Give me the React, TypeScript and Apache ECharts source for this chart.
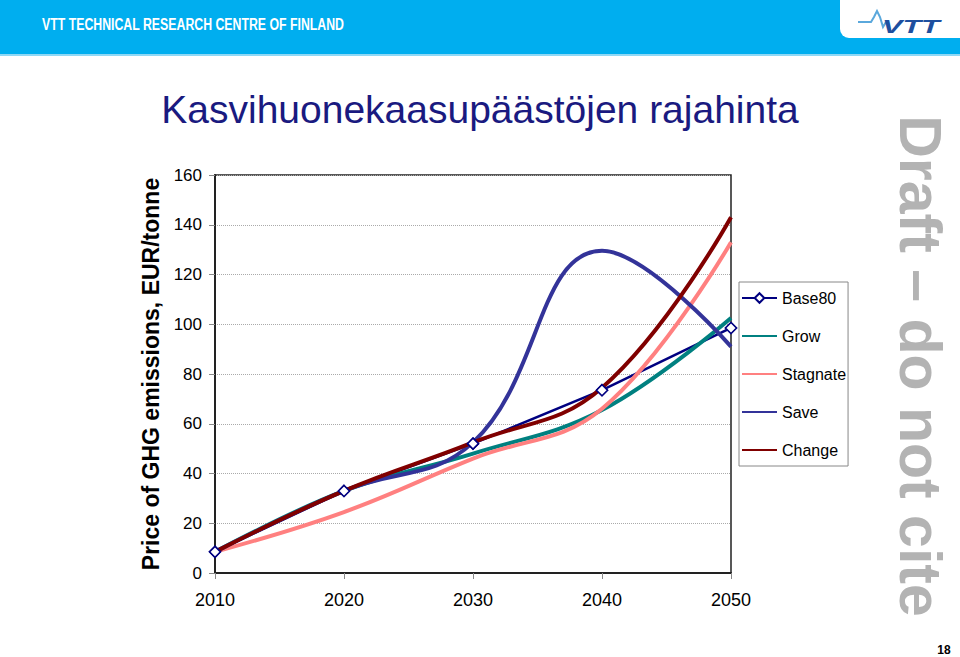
import React, { useEffect, useRef } from "react";
import * as echarts from "echarts";

const years = ["2010", "2020", "2030", "2040", "2050"];
const base80 = [8.5, 33, 52, 73.5, 98.5];
const grow = [8.5, 33, 48, 65.5, 102.5];
const stagnate = [8.5, 24.5, 46, 66, 133];
const save = [8.5, 33, 52.5, 129.5, 91];
const change = [8.5, 33, 52.5, 74.5, 143];
const seriesNames = ["Base80", "Grow", "Stagnate", "Save", "Change"];

const FONT = "'Liberation Sans', Arial, Helvetica, sans-serif";

export default function App() {
  const ref = useRef<HTMLDivElement>(null);
  useEffect(() => {
    const chart = echarts.init(ref.current as HTMLDivElement, null, { renderer: "svg" });
    const lineSeries = (name: string, data: number[], color: string, smooth: number) => ({
      name,
      type: "line",
      data,
      smooth,
      symbol: "none",
      showSymbol: false,
      lineStyle: { color, width: 4 },
      itemStyle: { color },
      z: 3,
    });
    chart.setOption({
      animation: false,
      backgroundColor: "#ffffff",
      textStyle: { fontFamily: FONT },
      title: {
        text: "Kasvihuonekaasupäästöjen rajahinta",
        left: "center",
        top: 85,
        textStyle: { fontSize: 39, fontWeight: "normal", color: "#1a1a80", fontFamily: FONT },
      },
      grid: {
        left: 215,
        right: 229,
        top: 175,
        bottom: 84,
        show: true,
        borderColor: "#222",
        borderWidth: 1.5,
        backgroundColor: "transparent",
      },
      xAxis: {
        type: "category",
        data: years,
        boundaryGap: false,
        axisLine: { lineStyle: { color: "#222", width: 2 } },
        axisTick: { show: true, length: 6, lineStyle: { color: "#888" } },
        axisLabel: { fontSize: 18, color: "#000", margin: 18, fontFamily: FONT },
        splitLine: { show: false },
      },
      yAxis: {
        type: "value",
        min: 0,
        max: 160,
        interval: 20,
        axisLine: { show: true, lineStyle: { color: "#222", width: 2 } },
        axisTick: { show: true, length: 6, lineStyle: { color: "#888" } },
        axisLabel: { fontSize: 17, color: "#000", margin: 13, fontFamily: FONT },
        splitLine: { lineStyle: { color: "#aaa", type: "dotted", width: 1 } },
      },
      legend: {
        orient: "vertical",
        left: 739,
        top: 282,
        data: seriesNames.map((n, i) =>
          i === 0 ? { name: n } : { name: n, itemStyle: { opacity: 0 } }
        ),
        itemWidth: 35,
        itemHeight: 12,
        itemGap: 22,
        padding: [8, 2, 8, 2],
        borderColor: "#888",
        borderWidth: 1,
        textStyle: { fontSize: 16, color: "#000", fontFamily: FONT },
      },
      series: [
        {
          name: "Base80",
          type: "line",
          data: base80,
          smooth: false,
          symbol: "diamond",
          symbolSize: 11,
          lineStyle: { color: "#000080", width: 2.5 },
          itemStyle: { color: "#ffffff", borderColor: "#000080", borderWidth: 1.5 },
          z: 3,
        },
        lineSeries("Grow", grow, "#008080", 0.4),
        lineSeries("Stagnate", stagnate, "#FF8080", 0.4),
        lineSeries("Save", save, "#333399", 0.42),
        lineSeries("Change", change, "#800000", 0.42),
        {
          type: "scatter",
          data: base80,
          symbol: "diamond",
          symbolSize: 11,
          itemStyle: { color: "#ffffff", borderColor: "#000080", borderWidth: 1.5, opacity: 1 },
          z: 10,
          silent: true,
        },
      ],
      graphic: [
        { type: "rect", shape: { x: 0, y: 0, width: 960, height: 54 }, style: { fill: "#00AEEF" }, z: 0 },
        { type: "rect", shape: { x: 0, y: 54, width: 960, height: 2 }, style: { fill: "#8fd8f5" }, z: 0 },
        { type: "rect", shape: { x: 840, y: 0, width: 130, height: 38, r: [0, 0, 0, 9] }, style: { fill: "#ffffff" }, z: 1 },
        {
          type: "polyline",
          shape: { points: [[858, 22], [871, 22], [874, 17], [877, 11], [880, 17], [883, 27], [886, 22]] },
          style: { stroke: "#5aa8dc", lineWidth: 2, fill: "none" },
          z: 2,
        },
        {
          type: "text",
          x: 882,
          y: 27,
          scaleX: 1.7,
          style: {
            text: "VTT",
            fontSize: 18,
            fontWeight: "bold",
            fontStyle: "italic",
            fontFamily: FONT,
            fill: "#1d4f9f",
            align: "left",
            verticalAlign: "middle",
          },
          z: 2,
        },
        {
          type: "text",
          x: 42,
          y: 24,
          scaleX: 0.77,
          style: {
            text: "VTT TECHNICAL RESEARCH CENTRE OF FINLAND",
            fontSize: 16,
            fontWeight: "bold",
            fontFamily: FONT,
            fill: "#ffffff",
            align: "left",
            verticalAlign: "middle",
          },
          z: 2,
        },
        {
          type: "text",
          x: 151,
          y: 374,
          rotation: Math.PI / 2,
          style: {
            text: "Price of GHG emissions, EUR/tonne",
            fontSize: 23,
            fontWeight: "bold",
            fontFamily: FONT,
            fill: "#000",
            align: "center",
            verticalAlign: "middle",
          },
        },
        {
          type: "text",
          x: 920,
          y: 366,
          rotation: -Math.PI / 2,
          style: {
            text: "Draft – do not cite",
            fontSize: 59,
            fontWeight: "bold",
            fontFamily: FONT,
            fill: "#b3b3b3",
            align: "center",
            verticalAlign: "middle",
          },
        },
        {
          type: "text",
          x: 944,
          y: 650,
          style: {
            text: "18",
            fontSize: 12,
            fontWeight: "bold",
            fontFamily: FONT,
            fill: "#000",
            align: "center",
            verticalAlign: "middle",
          },
        },
      ],
    });
    return () => chart.dispose();
  }, []);
  return (
    <div
      ref={ref}
      style={{ position: "fixed", left: 0, top: 0, width: 960, height: 657, background: "#fff" }}
    />
  );
}
